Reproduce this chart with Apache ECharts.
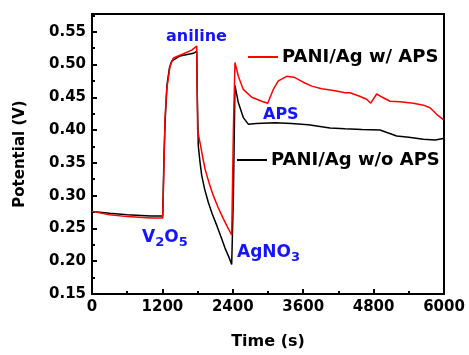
<!DOCTYPE html>
<html><head><meta charset="utf-8">
<script src="https://cdn.jsdelivr.net/npm/echarts@6/dist/echarts.min.js"></script>
<style>html,body{margin:0;padding:0;background:#fff}#c{width:469px;height:355px}</style>
</head><body><div id="c"></div>
<script>
// ---- data ----
const seriesNames = ['PANI/Ag w/o APS', 'PANI/Ag w/ APS'];

const timeBlack = [0, 300, 600, 1000, 1205, 1215, 1230, 1250, 1280, 1320, 1358, 1500, 1727, 1785, 1795, 1812, 1840, 1870, 1920, 1982, 2050, 2125, 2200, 2267, 2330, 2381, 2400, 2410, 2437, 2494, 2579, 2664, 2800, 3119, 3400, 3687, 4057, 4312, 4600, 4909, 5194, 5400, 5647, 5850, 5988, 6000];
const potBlack  = [0.276, 0.273, 0.271, 0.269, 0.269, 0.31, 0.37, 0.42, 0.47, 0.495, 0.505, 0.513, 0.517, 0.520, 0.45, 0.376, 0.352, 0.331, 0.310, 0.290, 0.272, 0.255, 0.237, 0.220, 0.207, 0.195, 0.193, 0.30, 0.468, 0.442, 0.419, 0.409, 0.410, 0.411, 0.410, 0.408, 0.403, 0.402, 0.401, 0.400, 0.391, 0.389, 0.386, 0.385, 0.387, 0.387];

const timeRed = [0, 300, 600, 1000, 1205, 1215, 1235, 1244, 1273, 1330, 1386, 1550, 1700, 1785, 1795, 1800, 1841, 1880, 1926, 2000, 2068, 2150, 2238, 2310, 2381, 2400, 2410, 2437, 2494, 2579, 2722, 2893, 2995, 3090, 3176, 3319, 3460, 3600, 3745, 3915, 4142, 4312, 4398, 4550, 4682, 4750, 4853, 4950, 5079, 5250, 5477, 5650, 5761, 5875, 5988];
const potRed    = [0.276, 0.271, 0.268, 0.266, 0.266, 0.30, 0.38, 0.417, 0.462, 0.497, 0.510, 0.516, 0.522, 0.528, 0.528, 0.40, 0.381, 0.362, 0.341, 0.318, 0.300, 0.282, 0.265, 0.252, 0.240, 0.238, 0.40, 0.503, 0.482, 0.462, 0.450, 0.444, 0.441, 0.462, 0.475, 0.482, 0.480, 0.473, 0.467, 0.463, 0.460, 0.457, 0.457, 0.452, 0.447, 0.441, 0.455, 0.450, 0.444, 0.443, 0.441, 0.438, 0.434, 0.424, 0.416];

const xTickValues = [0, 1200, 2400, 3600, 4800, 6000];
const yTickLabels = ['0.15', '0.20', '0.25', '0.30', '0.35', '0.40', '0.45', '0.50', '0.55'];

// ---- chart ----
const pairs = (xs, ys) => xs.map((x, i) => [x, ys[i]]);
const FONT = 'DejaVu Sans';
const BLUE = '#1414ff';
const chart = echarts.init(document.getElementById('c'), null, {renderer: 'canvas'});

const legendCommon = {
  orient: 'horizontal', padding: 0, itemGap: 0, itemWidth: 30, itemHeight: 2,
  icon: 'path://M0,0L30,0L30,2L0,2Z', selectedMode: false,
  textStyle: {fontFamily: FONT, fontWeight: 'bold', fontSize: 18, color: '#000', padding: [0, 0, 0, -1]}
};

chart.setOption({
  animation: false,
  backgroundColor: '#fff',
  grid: {left: 92, top: 14, right: 25, bottom: 59, show: true, borderColor: '#000', borderWidth: 2, containLabel: false},
  legend: [
    Object.assign({}, legendCommon, {data: [seriesNames[1]], left: 248, top: 48}),
    Object.assign({}, legendCommon, {data: [seriesNames[0]], left: 237, top: 151})
  ],
  xAxis: {
    type: 'value', min: xTickValues[0], max: xTickValues[xTickValues.length - 1],
    interval: xTickValues[1] - xTickValues[0],
    name: 'Time (s)', nameLocation: 'middle', nameGap: 40,
    nameTextStyle: {fontFamily: FONT, fontWeight: 'bold', fontSize: 16, color: '#000'},
    axisLine: {lineStyle: {color: '#000', width: 2}},
    axisTick: {inside: true, length: 5, lineStyle: {color: '#000', width: 2}},
    minorTick: {show: true, splitNumber: 2, length: 3, lineStyle: {color: '#000', width: 2}},
    splitLine: {show: false},
    axisLabel: {fontFamily: FONT, fontWeight: 'bold', fontSize: 15, color: '#000', margin: 6,
      formatter: v => xTickValues.includes(v) ? String(v) : ''}
  },
  yAxis: {
    type: 'value', min: 0.15, max: 0.577, interval: 0.05,
    name: 'Potential (V)', nameLocation: 'middle', nameGap: 64,
    nameTextStyle: {fontFamily: FONT, fontWeight: 'bold', fontSize: 15, color: '#000'},
    axisLine: {lineStyle: {color: '#000', width: 2}},
    axisTick: {inside: true, length: 5, lineStyle: {color: '#000', width: 2}},
    minorTick: {show: true, splitNumber: 2, length: 3, lineStyle: {color: '#000', width: 2}},
    splitLine: {show: false},
    axisLabel: {fontFamily: FONT, fontWeight: 'bold', fontSize: 15, color: '#000', margin: 6, showMaxLabel: false,
      formatter: v => { const s = v.toFixed(2); return yTickLabels.includes(s) ? s : ''; }}
  },
  series: [
    {name: seriesNames[0], type: 'line', data: pairs(timeBlack, potBlack), showSymbol: false, symbol: 'none',
     itemStyle: {color: '#000'}, lineStyle: {color: '#000', width: 1.5}, z: 2},
    {name: seriesNames[1], type: 'line', data: pairs(timeRed, potRed), showSymbol: false, symbol: 'none',
     itemStyle: {color: '#ff0000'}, lineStyle: {color: '#ff0000', width: 1.5}, z: 3}
  ],
  graphic: [
    {type: 'text', x: 166, y: 37, style: {text: 'aniline', fill: BLUE, font: 'bold 16px "DejaVu Sans"', verticalAlign: 'middle'}},
    {type: 'text', x: 263, y: 115, style: {text: 'APS', fill: BLUE, font: 'bold 16px "DejaVu Sans"', verticalAlign: 'middle'}},
    {type: 'text', x: 142, y: 238, style: {text: '{n|V}{s|2}{n|O}{s|5}', verticalAlign: 'middle',
      rich: {n: {fill: BLUE, fontFamily: FONT, fontWeight: 'bold', fontSize: 17},
             s: {fill: BLUE, fontFamily: FONT, fontWeight: 'bold', fontSize: 13, padding: [9, 0, 0, 0]}}}},
    {type: 'text', x: 237, y: 253, style: {text: '{n|AgNO}{s|3}', verticalAlign: 'middle',
      rich: {n: {fill: BLUE, fontFamily: FONT, fontWeight: 'bold', fontSize: 17},
             s: {fill: BLUE, fontFamily: FONT, fontWeight: 'bold', fontSize: 13, padding: [9, 0, 0, 0]}}}}
  ]
});
</script></body></html>
